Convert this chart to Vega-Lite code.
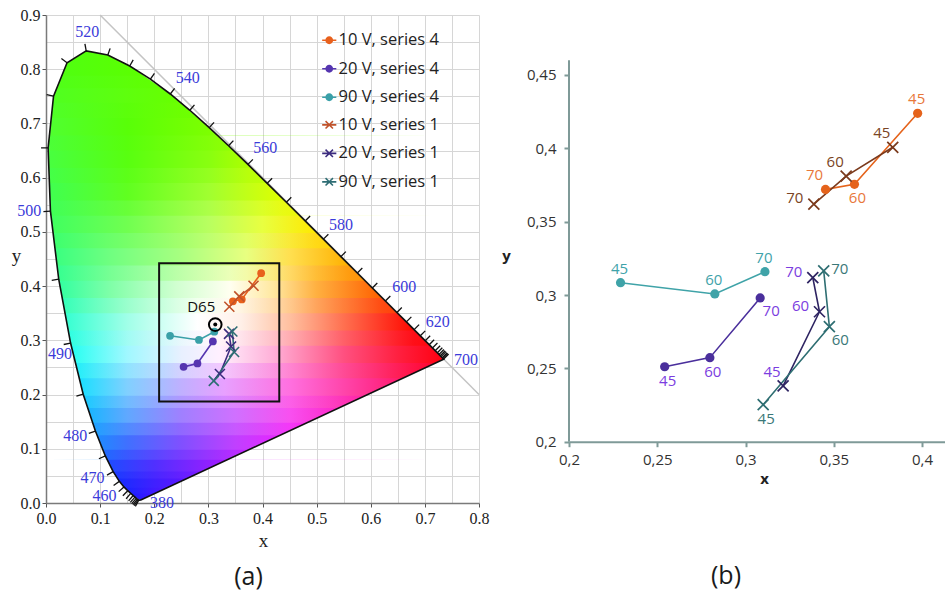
{
"$schema": "https://vega.github.io/schema/vega-lite/v6.json",
"padding": {"left": 11, "top": 7, "right": 0, "bottom": 5},
"spacing": 12,
"config": {"view": {"stroke": null}, "font": "Open Sans"},
"resolve": {"scale": {"x": "independent", "y": "independent", "color": "independent", "fill": "independent", "shape": "independent"}},
"datasets": {
"pts": [
{"s":"10 V, series 4","t":45,"x":0.3975,"y":0.4239},
{"s":"10 V, series 4","t":60,"x":0.3617,"y":0.3755},
{"s":"10 V, series 4","t":70,"x":0.3453,"y":0.372},
{"s":"20 V, series 4","t":45,"x":0.2542,"y":0.2511},
{"s":"20 V, series 4","t":60,"x":0.2798,"y":0.2573},
{"s":"20 V, series 4","t":70,"x":0.3083,"y":0.298},
{"s":"90 V, series 4","t":45,"x":0.2292,"y":0.3084},
{"s":"90 V, series 4","t":60,"x":0.2826,"y":0.3007},
{"s":"90 V, series 4","t":70,"x":0.311,"y":0.3159},
{"s":"10 V, series 1","t":45,"x":0.3834,"y":0.4007},
{"s":"10 V, series 1","t":60,"x":0.357,"y":0.3811},
{"s":"10 V, series 1","t":70,"x":0.3387,"y":0.362},
{"s":"20 V, series 1","t":45,"x":0.3213,"y":0.238},
{"s":"20 V, series 1","t":60,"x":0.3419,"y":0.2886},
{"s":"20 V, series 1","t":70,"x":0.3381,"y":0.3118},
{"s":"90 V, series 1","t":45,"x":0.31,"y":0.2252},
{"s":"90 V, series 1","t":60,"x":0.3475,"y":0.2784},
{"s":"90 V, series 1","t":70,"x":0.3443,"y":0.3164}
],
"strips": [
{"k":1,"y":0.00498,"x":0.0036,"x2":0.7347},{"k":1,"y":0.005,"x":0.1738,"x2":0.1741},{"k":1,"y":0.0109,"x":0.1644,"x2":0.1868},{"k":1,"y":0.0177,"x":0.1566,"x2":0.2015},{"k":1,"y":0.0227,"x":0.151,"x2":0.2122},{"k":1,"y":0.03,"x":0.1438,"x2":0.2279},
{"k":2,"y":0.02798,"x":0.0036,"x2":0.7347},{"k":2,"y":0.028,"x":0.1455,"x2":0.2236},{"k":2,"y":0.03,"x":0.1438,"x2":0.2279},{"k":2,"y":0.0399,"x":0.1355,"x2":0.2493},{"k":2,"y":0.0578,"x":0.1241,"x2":0.2878},{"k":2,"y":0.06,"x":0.123,"x2":0.2926},
{"k":3,"y":0.05798,"x":0.0036,"x2":0.7347},{"k":3,"y":0.058,"x":0.1243,"x2":0.2883},{"k":3,"y":0.06,"x":0.123,"x2":0.2926},{"k":3,"y":0.0868,"x":0.1096,"x2":0.3503},{"k":3,"y":0.1,"x":0.1043,"x2":0.3787},
{"k":4,"y":0.09798,"x":0.0036,"x2":0.7347},{"k":4,"y":0.098,"x":0.1051,"x2":0.3744},{"k":4,"y":0.1,"x":0.1043,"x2":0.3787},{"k":4,"y":0.1327,"x":0.0913,"x2":0.4491},{"k":4,"y":0.15,"x":0.0856,"x2":0.4864},
{"k":5,"y":0.14798,"x":0.0036,"x2":0.7347},{"k":5,"y":0.148,"x":0.0863,"x2":0.4821},{"k":5,"y":0.15,"x":0.0856,"x2":0.4864},{"k":5,"y":0.2,"x":0.0689,"x2":0.5941},
{"k":6,"y":0.19798,"x":0.0036,"x2":0.7347},{"k":6,"y":0.198,"x":0.0696,"x2":0.5898},{"k":6,"y":0.2,"x":0.0689,"x2":0.5941},{"k":6,"y":0.2007,"x":0.0687,"x2":0.5956},{"k":6,"y":0.26,"x":0.054,"x2":0.7233},
{"k":7,"y":0.25798,"x":0.0036,"x2":0.7347},{"k":7,"y":0.258,"x":0.0545,"x2":0.719},{"k":7,"y":0.26,"x":0.054,"x2":0.7233},{"k":7,"y":0.2653,"x":0.0527,"x2":0.7347},{"k":7,"y":0.274,"x":0.0505,"x2":0.726},{"k":7,"y":0.292,"x":0.0461,"x2":0.7079},{"k":7,"y":0.32,"x":0.0407,"x2":0.6798},
{"k":8,"y":0.31798,"x":0.0036,"x2":0.7347},{"k":8,"y":0.318,"x":0.0411,"x2":0.6798},{"k":8,"y":0.32,"x":0.0407,"x2":0.6798},{"k":8,"y":0.38,"x":0.0296,"x2":0.6195},
{"k":9,"y":0.37798,"x":0.0036,"x2":0.7347},{"k":9,"y":0.378,"x":0.03,"x2":0.6195},{"k":9,"y":0.38,"x":0.0296,"x2":0.6195},{"k":9,"y":0.44,"x":0.0202,"x2":0.5593},
{"k":10,"y":0.43798,"x":0.0036,"x2":0.7347},{"k":10,"y":0.438,"x":0.0204,"x2":0.5593},{"k":10,"y":0.44,"x":0.0202,"x2":0.5593},{"k":10,"y":0.5,"x":0.0129,"x2":0.499},
{"k":11,"y":0.49798,"x":0.0036,"x2":0.7347},{"k":11,"y":0.498,"x":0.0131,"x2":0.499},{"k":11,"y":0.5,"x":0.0129,"x2":0.499},{"k":11,"y":0.5384,"x":0.0082,"x2":0.4605},{"k":11,"y":0.56,"x":0.0074,"x2":0.4387},
{"k":12,"y":0.55798,"x":0.0036,"x2":0.7347},{"k":12,"y":0.558,"x":0.0075,"x2":0.4387},{"k":12,"y":0.56,"x":0.0074,"x2":0.4387},{"k":12,"y":0.62,"x":0.0052,"x2":0.3777},
{"k":13,"y":0.61798,"x":0.0036,"x2":0.7347},{"k":13,"y":0.618,"x":0.0053,"x2":0.3777},{"k":13,"y":0.62,"x":0.0052,"x2":0.3777},{"k":13,"y":0.6548,"x":0.0039,"x2":0.3411},{"k":13,"y":0.68,"x":0.0065,"x2":0.3146},
{"k":14,"y":0.67798,"x":0.0036,"x2":0.7347},{"k":14,"y":0.678,"x":0.0065,"x2":0.3146},{"k":14,"y":0.68,"x":0.0065,"x2":0.3146},{"k":14,"y":0.74,"x":0.0128,"x2":0.2462},
{"k":15,"y":0.73798,"x":0.0036,"x2":0.7347},{"k":15,"y":0.738,"x":0.0128,"x2":0.2462},{"k":15,"y":0.74,"x":0.0128,"x2":0.2462},{"k":15,"y":0.7502,"x":0.0139,"x2":0.2344},{"k":15,"y":0.79,"x":0.03,"x2":0.1778},
{"k":16,"y":0.78798,"x":0.0036,"x2":0.7347},{"k":16,"y":0.788,"x":0.03,"x2":0.1778},{"k":16,"y":0.79,"x":0.03,"x2":0.1778},{"k":16,"y":0.8059,"x":0.0364,"x2":0.1547},{"k":16,"y":0.812,"x":0.0389,"x2":0.1425},{"k":16,"y":0.8262,"x":0.0619,"x2":0.1142},{"k":16,"y":0.8338,"x":0.0743,"x2":0.0743},
{"k":101,"y":0.01748,"x":0.0036,"x2":0.7347},{"k":101,"y":0.0175,"x":0.1568,"x2":0.201},{"k":101,"y":0.0227,"x":0.151,"x2":0.2122},{"k":101,"y":0.03,"x":0.1438,"x2":0.2279},{"k":101,"y":0.0399,"x":0.1355,"x2":0.2493},{"k":101,"y":0.045,"x":0.1323,"x2":0.2602},
{"k":102,"y":0.04498,"x":0.0036,"x2":0.7347},{"k":102,"y":0.045,"x":0.1323,"x2":0.2602},{"k":102,"y":0.0578,"x":0.1241,"x2":0.2878},{"k":102,"y":0.06,"x":0.123,"x2":0.2926},{"k":102,"y":0.08,"x":0.113,"x2":0.3356},
{"k":103,"y":0.07998,"x":0.0036,"x2":0.7347},{"k":103,"y":0.08,"x":0.113,"x2":0.3356},{"k":103,"y":0.0868,"x":0.1096,"x2":0.3503},{"k":103,"y":0.1,"x":0.1043,"x2":0.3787},{"k":103,"y":0.125,"x":0.0944,"x2":0.4325},
{"k":104,"y":0.12498,"x":0.0036,"x2":0.7347},{"k":104,"y":0.125,"x":0.0944,"x2":0.4325},{"k":104,"y":0.1327,"x":0.0913,"x2":0.4491},{"k":104,"y":0.15,"x":0.0856,"x2":0.4864},{"k":104,"y":0.175,"x":0.0772,"x2":0.5402},
{"k":105,"y":0.17498,"x":0.0036,"x2":0.7347},{"k":105,"y":0.175,"x":0.0772,"x2":0.5402},{"k":105,"y":0.2,"x":0.0689,"x2":0.5941},{"k":105,"y":0.2007,"x":0.0687,"x2":0.5956},{"k":105,"y":0.23,"x":0.0615,"x2":0.6587},
{"k":106,"y":0.22998,"x":0.0036,"x2":0.7347},{"k":106,"y":0.23,"x":0.0615,"x2":0.6587},{"k":106,"y":0.26,"x":0.054,"x2":0.7233},{"k":106,"y":0.2653,"x":0.0527,"x2":0.7347},{"k":106,"y":0.274,"x":0.0505,"x2":0.726},{"k":106,"y":0.29,"x":0.0466,"x2":0.7099},
{"k":107,"y":0.28998,"x":0.0036,"x2":0.7347},{"k":107,"y":0.29,"x":0.0466,"x2":0.7099},{"k":107,"y":0.292,"x":0.0461,"x2":0.7079},{"k":107,"y":0.32,"x":0.0407,"x2":0.6798},{"k":107,"y":0.35,"x":0.0352,"x2":0.6497},
{"k":108,"y":0.34998,"x":0.0036,"x2":0.7347},{"k":108,"y":0.35,"x":0.0352,"x2":0.6497},{"k":108,"y":0.38,"x":0.0296,"x2":0.6195},{"k":108,"y":0.41,"x":0.024,"x2":0.5894},
{"k":109,"y":0.40998,"x":0.0036,"x2":0.7347},{"k":109,"y":0.41,"x":0.024,"x2":0.5894},{"k":109,"y":0.44,"x":0.0202,"x2":0.5593},{"k":109,"y":0.47,"x":0.0165,"x2":0.5292},
{"k":110,"y":0.46998,"x":0.0036,"x2":0.7347},{"k":110,"y":0.47,"x":0.0165,"x2":0.5292},{"k":110,"y":0.5,"x":0.0129,"x2":0.499},{"k":110,"y":0.53,"x":0.0092,"x2":0.4689},
{"k":111,"y":0.52998,"x":0.0036,"x2":0.7347},{"k":111,"y":0.53,"x":0.0092,"x2":0.4689},{"k":111,"y":0.5384,"x":0.0082,"x2":0.4605},{"k":111,"y":0.56,"x":0.0074,"x2":0.4387},{"k":111,"y":0.59,"x":0.0063,"x2":0.4082},
{"k":112,"y":0.58998,"x":0.0036,"x2":0.7347},{"k":112,"y":0.59,"x":0.0063,"x2":0.4082},{"k":112,"y":0.62,"x":0.0052,"x2":0.3777},{"k":112,"y":0.65,"x":0.0041,"x2":0.3462},
{"k":113,"y":0.64998,"x":0.0036,"x2":0.7347},{"k":113,"y":0.65,"x":0.0041,"x2":0.3462},{"k":113,"y":0.6548,"x":0.0039,"x2":0.3411},{"k":113,"y":0.68,"x":0.0065,"x2":0.3146},{"k":113,"y":0.71,"x":0.0097,"x2":0.281},
{"k":114,"y":0.70998,"x":0.0036,"x2":0.7347},{"k":114,"y":0.71,"x":0.0097,"x2":0.281},{"k":114,"y":0.74,"x":0.0128,"x2":0.2462},{"k":114,"y":0.7502,"x":0.0139,"x2":0.2344},{"k":114,"y":0.765,"x":0.0199,"x2":0.2141},
{"k":115,"y":0.76498,"x":0.0036,"x2":0.7347},{"k":115,"y":0.765,"x":0.0199,"x2":0.2141},{"k":115,"y":0.79,"x":0.03,"x2":0.1778},{"k":115,"y":0.8059,"x":0.0364,"x2":0.1547},{"k":115,"y":0.812,"x":0.0389,"x2":0.1425}
],
"locus": [
{"i":1,"x":0.1741,"y":0.005},{"i":2,"x":0.1714,"y":0.0051},{"i":3,"x":0.1689,"y":0.0069},{"i":4,"x":0.1644,"y":0.0109},{"i":5,"x":0.1566,"y":0.0177},{"i":6,"x":0.151,"y":0.0227},{"i":7,"x":0.144,"y":0.0297},{"i":8,"x":0.1355,"y":0.0399},{"i":9,"x":0.1241,"y":0.0578},{"i":10,"x":0.1096,"y":0.0868},{"i":11,"x":0.0913,"y":0.1327},{"i":12,"x":0.0687,"y":0.2007},{"i":13,"x":0.0454,"y":0.295},{"i":14,"x":0.0235,"y":0.4127},{"i":15,"x":0.0082,"y":0.5384},{"i":16,"x":0.0039,"y":0.6548},{"i":17,"x":0.0139,"y":0.7502},{"i":18,"x":0.0389,"y":0.812},{"i":19,"x":0.0743,"y":0.8338},{"i":20,"x":0.1142,"y":0.8262},{"i":21,"x":0.1547,"y":0.8059},{"i":22,"x":0.1929,"y":0.7816},{"i":23,"x":0.2296,"y":0.7543},{"i":24,"x":0.2658,"y":0.7243},{"i":25,"x":0.3016,"y":0.6923},{"i":26,"x":0.3373,"y":0.6589},{"i":27,"x":0.3731,"y":0.6245},{"i":28,"x":0.4087,"y":0.5896},{"i":29,"x":0.4441,"y":0.5547},{"i":30,"x":0.4788,"y":0.5202},{"i":31,"x":0.5125,"y":0.4866},{"i":32,"x":0.5448,"y":0.4544},{"i":33,"x":0.5752,"y":0.4242},{"i":34,"x":0.6029,"y":0.3965},{"i":35,"x":0.627,"y":0.3725},{"i":36,"x":0.6482,"y":0.3514},{"i":37,"x":0.6658,"y":0.334},{"i":38,"x":0.6915,"y":0.3083},{"i":39,"x":0.7079,"y":0.292},{"i":40,"x":0.719,"y":0.2809},{"i":41,"x":0.726,"y":0.274},{"i":42,"x":0.73,"y":0.27},{"i":43,"x":0.7334,"y":0.2666},{"i":44,"x":0.7347,"y":0.2653},{"i":45,"x":0.1741,"y":0.005}
],
"ticks": [
{"x":0.1714,"y":0.0051,"x2":0.1651,"y2":-0.0063},{"x":0.1703,"y":0.0058,"x2":0.1627,"y2":-0.0048},{"x":0.1689,"y":0.0069,"x2":0.1606,"y2":-0.0031},{"x":0.1669,"y":0.0086,"x2":0.1583,"y2":-0.0011},{"x":0.1644,"y":0.0109,"x2":0.1557,"y2":0.0012},{"x":0.1611,"y":0.0138,"x2":0.1526,"y2":0.004},{"x":0.1566,"y":0.0177,"x2":0.148,"y2":0.0079},{"x":0.151,"y":0.0227,"x2":0.142,"y2":0.0133},{"x":0.144,"y":0.0297,"x2":0.1343,"y2":0.021},{"x":0.1355,"y":0.0399,"x2":0.1249,"y2":0.0324},{"x":0.1241,"y":0.0578,"x2":0.1127,"y2":0.0515},{"x":0.1096,"y":0.0868,"x2":0.0977,"y2":0.0816},{"x":0.0913,"y":0.1327,"x2":0.0791,"y2":0.1283},{"x":0.0687,"y":0.2007,"x2":0.0562,"y2":0.1972},{"x":0.0454,"y":0.295,"x2":0.0327,"y2":0.2923},{"x":0.0235,"y":0.4127,"x2":0.0106,"y2":0.4107},{"x":0.0082,"y":0.5384,"x2":-0.0048,"y2":0.5373},{"x":0.0039,"y":0.6548,"x2":-0.0091,"y2":0.6551},{"x":0.0139,"y":0.7502,"x2":0.0012,"y2":0.753},{"x":0.0389,"y":0.812,"x2":0.0284,"y2":0.8196},{"x":0.0743,"y":0.8338,"x2":0.0719,"y2":0.8466},{"x":0.1142,"y":0.8262,"x2":0.1185,"y2":0.8385},{"x":0.1547,"y":0.8059,"x2":0.1611,"y2":0.8172},{"x":0.1929,"y":0.7816,"x2":0.2003,"y2":0.7923},{"x":0.2296,"y":0.7543,"x2":0.2376,"y2":0.7645},{"x":0.2658,"y":0.7243,"x2":0.2743,"y2":0.7342},{"x":0.3016,"y":0.6923,"x2":0.3104,"y2":0.7019},{"x":0.3373,"y":0.6589,"x2":0.3462,"y2":0.6683},{"x":0.3731,"y":0.6245,"x2":0.3822,"y2":0.6338},{"x":0.4087,"y":0.5896,"x2":0.4178,"y2":0.5989},{"x":0.4441,"y":0.5547,"x2":0.4532,"y2":0.5639},{"x":0.4788,"y":0.5202,"x2":0.488,"y2":0.5294},{"x":0.5125,"y":0.4866,"x2":0.5217,"y2":0.4958},{"x":0.5448,"y":0.4544,"x2":0.554,"y2":0.4636},{"x":0.5752,"y":0.4242,"x2":0.5844,"y2":0.4334},{"x":0.6029,"y":0.3965,"x2":0.6121,"y2":0.4057},{"x":0.627,"y":0.3725,"x2":0.6362,"y2":0.3817},{"x":0.6482,"y":0.3514,"x2":0.6574,"y2":0.3606},{"x":0.6658,"y":0.334,"x2":0.675,"y2":0.3432},{"x":0.6801,"y":0.3197,"x2":0.6893,"y2":0.3289},{"x":0.6915,"y":0.3083,"x2":0.7007,"y2":0.3175},{"x":0.7006,"y":0.2993,"x2":0.7098,"y2":0.3085},{"x":0.7079,"y":0.292,"x2":0.7171,"y2":0.3012},{"x":0.714,"y":0.2859,"x2":0.7232,"y2":0.2951},{"x":0.719,"y":0.2809,"x2":0.7282,"y2":0.2901},{"x":0.723,"y":0.277,"x2":0.7322,"y2":0.2862},{"x":0.726,"y":0.274,"x2":0.7352,"y2":0.2832},{"x":0.7283,"y":0.2717,"x2":0.7375,"y2":0.2809},{"x":0.73,"y":0.27,"x2":0.7392,"y2":0.2792},{"x":0.732,"y":0.268,"x2":0.7412,"y2":0.2772},{"x":0.7334,"y":0.2666,"x2":0.7426,"y2":0.2758},{"x":0.7347,"y":0.2653,"x2":0.7439,"y2":0.2745}
],
"wl": [
{"w":"520","x":0.076,"y":0.869},{"w":"540","x":0.262,"y":0.784},{"w":"560","x":0.405,"y":0.655},{"w":"580","x":0.545,"y":0.513},{"w":"600","x":0.662,"y":0.398},{"w":"620","x":0.724,"y":0.3345},{"w":"700","x":0.776,"y":0.264},{"w":"500","x":-0.031,"y":0.539},{"w":"490","x":0.026,"y":0.274},{"w":"480","x":0.054,"y":0.124},{"w":"470","x":0.086,"y":0.046},{"w":"460","x":0.108,"y":0.012},{"w":"380","x":0.2145,"y":0.0}
],
"diag": [{"x":0.1,"y":0.9},{"x":0.8,"y":0.2}],
"box": [{"x":0.209,"x2":0.431,"y":0.187,"y2":0.442}],
"d65": [{"x":0.3127,"y":0.329,"name":"D65"}],
"baxis": [{"x":0.2,"y":0.2,"y2":0.46}]
},
"hconcat": [
{
"width": 433, "height": 488,
"title": {"text":"(a)","orient":"bottom","anchor":"middle","font":"Open Sans","fontSize":25,"fontWeight":"normal","color":"#1a1a1a","offset":15,"dx":-14},
"resolve": {"scale": {"color": "independent"}},
"encoding": {
"x": {"field":"x","type":"quantitative","scale":{"domain":[0,0.8],"nice":false,"zero":false},
"axis":{"values":[0,0.05,0.1,0.15,0.2,0.25,0.3,0.35,0.4,0.45,0.5,0.55,0.6,0.65,0.7,0.75,0.8],"labelExpr":"round(datum.value*100) % 10 == 0 ? format(datum.value, '.1f') : ''","grid":true,"gridColor":"#d6d6d6","gridWidth":1,"domainColor":"#7a7a7a","domainWidth":1.5,"tickColor":"#555555","tickSize":4,"tickOpacity":{"condition":{"test":"round(datum.value*100) % 10 == 0","value":1},"value":0},"labelFont":"Liberation Serif","labelFontSize":16,"labelColor":"#222222","labelPadding":3,"labelFlush":false,"labelOverlap":false,"title":"x","titleFont":"Liberation Serif","titleFontSize":19,"titleFontWeight":"normal","titleColor":"#222222","titleX":217,"titleY":37,"titleBaseline":"middle","titleAlign":"center"}},
"y": {"field":"y","type":"quantitative","scale":{"domain":[0,0.9],"nice":false,"zero":false},
"axis":{"values":[0,0.05,0.1,0.15,0.2,0.25,0.3,0.35,0.4,0.45,0.5,0.55,0.6,0.65,0.7,0.75,0.8,0.85,0.9],"labelExpr":"round(datum.value*100) % 10 == 0 ? format(datum.value, '.1f') : ''","grid":true,"gridColor":"#d6d6d6","gridWidth":1,"domainColor":"#7a7a7a","domainWidth":1.5,"tickColor":"#555555","tickSize":4,"tickOpacity":{"condition":{"test":"round(datum.value*100) % 10 == 0","value":1},"value":0},"labelFont":"Liberation Serif","labelFontSize":16,"labelColor":"#222222","labelPadding":2,"labelFlush":false,"labelOverlap":false,"title":"y","titleFont":"Liberation Serif","titleFontSize":19,"titleFontWeight":"normal","titleColor":"#222222","titleAngle":0,"titleX":-30,"titleY":240,"titleBaseline":"middle","titleAlign":"center"}}
},
"layer": [
{"data":{"name":"diag"},"mark":{"type":"line","color":"#c4c4c4","strokeWidth":1.5},"encoding":{}},
{"data":{"name":"strips"},"transform":[{"filter":"datum.k == 1"}],"mark":{"type":"area","orient":"horizontal","fill":{"gradient":"linear","x1":0,"y1":0,"x2":1,"y2":0,"stops":[{"offset":0.1918,"color":"#1020ff"},{"offset":0.3068,"color":"#5a10ff"}]}},"encoding":{"x2":{"field":"x2"}}},
{"data":{"name":"strips"},"transform":[{"filter":"datum.k == 2"}],"mark":{"type":"area","orient":"horizontal","fill":{"gradient":"linear","x1":0,"y1":0,"x2":1,"y2":0,"stops":[{"offset":0.1633,"color":"#1030ff"},{"offset":0.2686,"color":"#4020ff"},{"offset":0.3953,"color":"#7010ff"}]}},"encoding":{"x2":{"field":"x2"}}},
{"data":{"name":"strips"},"transform":[{"filter":"datum.k == 3"}],"mark":{"type":"area","orient":"horizontal","fill":{"gradient":"linear","x1":0,"y1":0,"x2":1,"y2":0,"stops":[{"offset":0.1377,"color":"#1850ff"},{"offset":0.2686,"color":"#5030ff"},{"offset":0.4054,"color":"#9020ff"},{"offset":0.5131,"color":"#c010ff"}]}},"encoding":{"x2":{"field":"x2"}}},
{"data":{"name":"strips"},"transform":[{"filter":"datum.k == 4"}],"mark":{"type":"area","orient":"horizontal","fill":{"gradient":"linear","x1":0,"y1":0,"x2":1,"y2":0,"stops":[{"offset":0.1122,"color":"#1890ff"},{"offset":0.2003,"color":"#4070ff"},{"offset":0.337,"color":"#8050ff"},{"offset":0.4738,"color":"#c040ff"},{"offset":0.6106,"color":"#f020ff"},{"offset":0.6604,"color":"#ff10f0"}]}},"encoding":{"x2":{"field":"x2"}}},
{"data":{"name":"strips"},"transform":[{"filter":"datum.k == 5"}],"mark":{"type":"area","orient":"horizontal","fill":{"gradient":"linear","x1":0,"y1":0,"x2":1,"y2":0,"stops":[{"offset":0.0893,"color":"#10b8ff"},{"offset":0.2003,"color":"#60a8ff"},{"offset":0.337,"color":"#a080ff"},{"offset":0.4738,"color":"#d070ff"},{"offset":0.6106,"color":"#f850f0"},{"offset":0.8077,"color":"#ff10b0"}]}},"encoding":{"x2":{"field":"x2"}}},
{"data":{"name":"strips"},"transform":[{"filter":"datum.k == 6"}],"mark":{"type":"area","orient":"horizontal","fill":{"gradient":"linear","x1":0,"y1":0,"x2":1,"y2":0,"stops":[{"offset":0.0689,"color":"#10e0ff"},{"offset":0.2003,"color":"#80d0ff"},{"offset":0.337,"color":"#c0b0ff"},{"offset":0.4464,"color":"#e8a0ff"},{"offset":0.6106,"color":"#ff70e0"},{"offset":0.8157,"color":"#ff3090"},{"offset":0.9844,"color":"#ff0040"}]}},"encoding":{"x2":{"field":"x2"}}},
{"data":{"name":"strips"},"transform":[{"filter":"datum.k == 7"}],"mark":{"type":"area","orient":"horizontal","fill":{"gradient":"linear","x1":0,"y1":0,"x2":1,"y2":0,"stops":[{"offset":0.0507,"color":"#20fff0"},{"offset":0.2003,"color":"#a0f8ff"},{"offset":0.337,"color":"#e8f0ff"},{"offset":0.4328,"color":"#fff0ff"},{"offset":0.5696,"color":"#ffb0d8"},{"offset":0.7474,"color":"#ff5080"},{"offset":0.8841,"color":"#ff2040"},{"offset":1,"color":"#ff0010"}]}},"encoding":{"x2":{"field":"x2"}}},
{"data":{"name":"strips"},"transform":[{"filter":"datum.k == 8"}],"mark":{"type":"area","orient":"horizontal","fill":{"gradient":"linear","x1":0,"y1":0,"x2":1,"y2":0,"stops":[{"offset":0.0356,"color":"#30ffd0"},{"offset":0.2003,"color":"#a0ffe8"},{"offset":0.3781,"color":"#ffffff"},{"offset":0.4875,"color":"#fff0e8"},{"offset":0.6106,"color":"#ffc0a0"},{"offset":0.7474,"color":"#ff7050"},{"offset":0.9249,"color":"#ff0800"}]}},"encoding":{"x2":{"field":"x2"}}},
{"data":{"name":"strips"},"transform":[{"filter":"datum.k == 9"}],"mark":{"type":"area","orient":"horizontal","fill":{"gradient":"linear","x1":0,"y1":0,"x2":1,"y2":0,"stops":[{"offset":0.0227,"color":"#30ffa0"},{"offset":0.1592,"color":"#80ffa8"},{"offset":0.3233,"color":"#d0ffd0"},{"offset":0.4601,"color":"#fffff0"},{"offset":0.5696,"color":"#ffe8a0"},{"offset":0.679,"color":"#ffb040"},{"offset":0.8424,"color":"#ff6000"}]}},"encoding":{"x2":{"field":"x2"}}},
{"data":{"name":"strips"},"transform":[{"filter":"datum.k == 10"}],"mark":{"type":"area","orient":"horizontal","fill":{"gradient":"linear","x1":0,"y1":0,"x2":1,"y2":0,"stops":[{"offset":0.0127,"color":"#38ff80"},{"offset":0.1592,"color":"#70ff80"},{"offset":0.337,"color":"#a8ff80"},{"offset":0.5012,"color":"#e8ff80"},{"offset":0.6106,"color":"#ffe050"},{"offset":0.7601,"color":"#ffb000"}]}},"encoding":{"x2":{"field":"x2"}}},
{"data":{"name":"strips"},"transform":[{"filter":"datum.k == 11"}],"mark":{"type":"area","orient":"horizontal","fill":{"gradient":"linear","x1":0,"y1":0,"x2":1,"y2":0,"stops":[{"offset":0.0052,"color":"#40ff60"},{"offset":0.2003,"color":"#70ff50"},{"offset":0.4054,"color":"#b8ff60"},{"offset":0.5422,"color":"#e8ff40"},{"offset":0.6776,"color":"#ffe800"}]}},"encoding":{"x2":{"field":"x2"}}},
{"data":{"name":"strips"},"transform":[{"filter":"datum.k == 12"}],"mark":{"type":"area","orient":"horizontal","fill":{"gradient":"linear","x1":0,"y1":0,"x2":1,"y2":0,"stops":[{"offset":0.0022,"color":"#40ff50"},{"offset":0.2003,"color":"#60ff20"},{"offset":0.4054,"color":"#a0ff30"},{"offset":0.5951,"color":"#e0ff00"}]}},"encoding":{"x2":{"field":"x2"}}},
{"data":{"name":"strips"},"transform":[{"filter":"datum.k == 13"}],"mark":{"type":"area","orient":"horizontal","fill":{"gradient":"linear","x1":0,"y1":0,"x2":1,"y2":0,"stops":[{"offset":0.0004,"color":"#48ff40"},{"offset":0.2003,"color":"#58ff10"},{"offset":0.4054,"color":"#88ff10"},{"offset":0.5117,"color":"#b0ff00"}]}},"encoding":{"x2":{"field":"x2"}}},
{"data":{"name":"strips"},"transform":[{"filter":"datum.k == 14"}],"mark":{"type":"area","orient":"horizontal","fill":{"gradient":"linear","x1":0,"y1":0,"x2":1,"y2":0,"stops":[{"offset":0.004,"color":"#50ff30"},{"offset":0.2003,"color":"#58ff08"},{"offset":0.4254,"color":"#80ff00"}]}},"encoding":{"x2":{"field":"x2"}}},
{"data":{"name":"strips"},"transform":[{"filter":"datum.k == 15"}],"mark":{"type":"area","orient":"horizontal","fill":{"gradient":"linear","x1":0,"y1":0,"x2":1,"y2":0,"stops":[{"offset":0.0126,"color":"#50ff20"},{"offset":0.3318,"color":"#68ff00"}]}},"encoding":{"x2":{"field":"x2"}}},
{"data":{"name":"strips"},"transform":[{"filter":"datum.k == 16"}],"mark":{"type":"area","orient":"horizontal","fill":{"gradient":"linear","x1":0,"y1":0,"x2":1,"y2":0,"stops":[{"offset":0.0361,"color":"#50ff10"},{"offset":0.2383,"color":"#5cff00"}]}},"encoding":{"x2":{"field":"x2"}}},
{"data":{"name":"strips"},"transform":[{"filter":"datum.k == 101"}],"mark":{"type":"area","orient":"horizontal","fillOpacity":0.5,"fill":{"gradient":"linear","x1":0,"y1":0,"x2":1,"y2":0,"stops":[{"offset":0.1633,"color":"#1030ff"},{"offset":0.2686,"color":"#4020ff"},{"offset":0.3953,"color":"#7010ff"}]}},"encoding":{"x2":{"field":"x2"}}},
{"data":{"name":"strips"},"transform":[{"filter":"datum.k == 102"}],"mark":{"type":"area","orient":"horizontal","fillOpacity":0.5,"fill":{"gradient":"linear","x1":0,"y1":0,"x2":1,"y2":0,"stops":[{"offset":0.1377,"color":"#1850ff"},{"offset":0.2686,"color":"#5030ff"},{"offset":0.4054,"color":"#9020ff"},{"offset":0.5131,"color":"#c010ff"}]}},"encoding":{"x2":{"field":"x2"}}},
{"data":{"name":"strips"},"transform":[{"filter":"datum.k == 103"}],"mark":{"type":"area","orient":"horizontal","fillOpacity":0.5,"fill":{"gradient":"linear","x1":0,"y1":0,"x2":1,"y2":0,"stops":[{"offset":0.1122,"color":"#1890ff"},{"offset":0.2003,"color":"#4070ff"},{"offset":0.337,"color":"#8050ff"},{"offset":0.4738,"color":"#c040ff"},{"offset":0.6106,"color":"#f020ff"},{"offset":0.6604,"color":"#ff10f0"}]}},"encoding":{"x2":{"field":"x2"}}},
{"data":{"name":"strips"},"transform":[{"filter":"datum.k == 104"}],"mark":{"type":"area","orient":"horizontal","fillOpacity":0.5,"fill":{"gradient":"linear","x1":0,"y1":0,"x2":1,"y2":0,"stops":[{"offset":0.0893,"color":"#10b8ff"},{"offset":0.2003,"color":"#60a8ff"},{"offset":0.337,"color":"#a080ff"},{"offset":0.4738,"color":"#d070ff"},{"offset":0.6106,"color":"#f850f0"},{"offset":0.8077,"color":"#ff10b0"}]}},"encoding":{"x2":{"field":"x2"}}},
{"data":{"name":"strips"},"transform":[{"filter":"datum.k == 105"}],"mark":{"type":"area","orient":"horizontal","fillOpacity":0.5,"fill":{"gradient":"linear","x1":0,"y1":0,"x2":1,"y2":0,"stops":[{"offset":0.0689,"color":"#10e0ff"},{"offset":0.2003,"color":"#80d0ff"},{"offset":0.337,"color":"#c0b0ff"},{"offset":0.4464,"color":"#e8a0ff"},{"offset":0.6106,"color":"#ff70e0"},{"offset":0.8157,"color":"#ff3090"},{"offset":0.9844,"color":"#ff0040"}]}},"encoding":{"x2":{"field":"x2"}}},
{"data":{"name":"strips"},"transform":[{"filter":"datum.k == 106"}],"mark":{"type":"area","orient":"horizontal","fillOpacity":0.5,"fill":{"gradient":"linear","x1":0,"y1":0,"x2":1,"y2":0,"stops":[{"offset":0.0507,"color":"#20fff0"},{"offset":0.2003,"color":"#a0f8ff"},{"offset":0.337,"color":"#e8f0ff"},{"offset":0.4328,"color":"#fff0ff"},{"offset":0.5696,"color":"#ffb0d8"},{"offset":0.7474,"color":"#ff5080"},{"offset":0.8841,"color":"#ff2040"},{"offset":1,"color":"#ff0010"}]}},"encoding":{"x2":{"field":"x2"}}},
{"data":{"name":"strips"},"transform":[{"filter":"datum.k == 107"}],"mark":{"type":"area","orient":"horizontal","fillOpacity":0.5,"fill":{"gradient":"linear","x1":0,"y1":0,"x2":1,"y2":0,"stops":[{"offset":0.0356,"color":"#30ffd0"},{"offset":0.2003,"color":"#a0ffe8"},{"offset":0.3781,"color":"#ffffff"},{"offset":0.4875,"color":"#fff0e8"},{"offset":0.6106,"color":"#ffc0a0"},{"offset":0.7474,"color":"#ff7050"},{"offset":0.9249,"color":"#ff0800"}]}},"encoding":{"x2":{"field":"x2"}}},
{"data":{"name":"strips"},"transform":[{"filter":"datum.k == 108"}],"mark":{"type":"area","orient":"horizontal","fillOpacity":0.5,"fill":{"gradient":"linear","x1":0,"y1":0,"x2":1,"y2":0,"stops":[{"offset":0.0227,"color":"#30ffa0"},{"offset":0.1592,"color":"#80ffa8"},{"offset":0.3233,"color":"#d0ffd0"},{"offset":0.4601,"color":"#fffff0"},{"offset":0.5696,"color":"#ffe8a0"},{"offset":0.679,"color":"#ffb040"},{"offset":0.8424,"color":"#ff6000"}]}},"encoding":{"x2":{"field":"x2"}}},
{"data":{"name":"strips"},"transform":[{"filter":"datum.k == 109"}],"mark":{"type":"area","orient":"horizontal","fillOpacity":0.5,"fill":{"gradient":"linear","x1":0,"y1":0,"x2":1,"y2":0,"stops":[{"offset":0.0127,"color":"#38ff80"},{"offset":0.1592,"color":"#70ff80"},{"offset":0.337,"color":"#a8ff80"},{"offset":0.5012,"color":"#e8ff80"},{"offset":0.6106,"color":"#ffe050"},{"offset":0.7601,"color":"#ffb000"}]}},"encoding":{"x2":{"field":"x2"}}},
{"data":{"name":"strips"},"transform":[{"filter":"datum.k == 110"}],"mark":{"type":"area","orient":"horizontal","fillOpacity":0.5,"fill":{"gradient":"linear","x1":0,"y1":0,"x2":1,"y2":0,"stops":[{"offset":0.0052,"color":"#40ff60"},{"offset":0.2003,"color":"#70ff50"},{"offset":0.4054,"color":"#b8ff60"},{"offset":0.5422,"color":"#e8ff40"},{"offset":0.6776,"color":"#ffe800"}]}},"encoding":{"x2":{"field":"x2"}}},
{"data":{"name":"strips"},"transform":[{"filter":"datum.k == 111"}],"mark":{"type":"area","orient":"horizontal","fillOpacity":0.5,"fill":{"gradient":"linear","x1":0,"y1":0,"x2":1,"y2":0,"stops":[{"offset":0.0022,"color":"#40ff50"},{"offset":0.2003,"color":"#60ff20"},{"offset":0.4054,"color":"#a0ff30"},{"offset":0.5951,"color":"#e0ff00"}]}},"encoding":{"x2":{"field":"x2"}}},
{"data":{"name":"strips"},"transform":[{"filter":"datum.k == 112"}],"mark":{"type":"area","orient":"horizontal","fillOpacity":0.5,"fill":{"gradient":"linear","x1":0,"y1":0,"x2":1,"y2":0,"stops":[{"offset":0.0004,"color":"#48ff40"},{"offset":0.2003,"color":"#58ff10"},{"offset":0.4054,"color":"#88ff10"},{"offset":0.5117,"color":"#b0ff00"}]}},"encoding":{"x2":{"field":"x2"}}},
{"data":{"name":"strips"},"transform":[{"filter":"datum.k == 113"}],"mark":{"type":"area","orient":"horizontal","fillOpacity":0.5,"fill":{"gradient":"linear","x1":0,"y1":0,"x2":1,"y2":0,"stops":[{"offset":0.004,"color":"#50ff30"},{"offset":0.2003,"color":"#58ff08"},{"offset":0.4254,"color":"#80ff00"}]}},"encoding":{"x2":{"field":"x2"}}},
{"data":{"name":"strips"},"transform":[{"filter":"datum.k == 114"}],"mark":{"type":"area","orient":"horizontal","fillOpacity":0.5,"fill":{"gradient":"linear","x1":0,"y1":0,"x2":1,"y2":0,"stops":[{"offset":0.0126,"color":"#50ff20"},{"offset":0.3318,"color":"#68ff00"}]}},"encoding":{"x2":{"field":"x2"}}},
{"data":{"name":"strips"},"transform":[{"filter":"datum.k == 115"}],"mark":{"type":"area","orient":"horizontal","fillOpacity":0.5,"fill":{"gradient":"linear","x1":0,"y1":0,"x2":1,"y2":0,"stops":[{"offset":0.0361,"color":"#50ff10"},{"offset":0.2383,"color":"#5cff00"}]}},"encoding":{"x2":{"field":"x2"}}},
{"data":{"name":"locus"},"mark":{"type":"line","color":"#111111","strokeWidth":1.6},"encoding":{"order":{"field":"i","type":"quantitative"}}},
{"data":{"name":"ticks"},"mark":{"type":"rule","color":"#111111","strokeWidth":1.3},"encoding":{"x2":{"field":"x2"},"y2":{"field":"y2"}}},
{"data":{"name":"wl"},"mark":{"type":"text","font":"Liberation Serif","fontSize":16,"fill":"#3b3bd9","align":"center","baseline":"middle"},"encoding":{"text":{"field":"w","type":"nominal"}}},
{"data":{"name":"box"},"mark":{"type":"rect","filled":false,"color":"#111111","strokeWidth":2},"encoding":{"x2":{"field":"x2"},"y2":{"field":"y2"}}},
{"data":{"name":"pts"},"mark":{"type":"line","strokeWidth":1.6},"encoding":{"order":{"field":"t","type":"quantitative"},"color":{"field":"s","type":"nominal","legend":null,"scale":{"domain":["10 V, series 4","20 V, series 4","90 V, series 4","10 V, series 1","20 V, series 1","90 V, series 1"],"range":["#e8601c","#5535b0","#3aa0a8","#c0522a","#3b2b7e","#2e6d74"]}}}},
{"data":{"name":"pts"},"transform":[{"filter":{"field":"s","oneOf":["10 V, series 4","20 V, series 4","90 V, series 4"]}}],"mark":{"type":"point","shape":"circle","filled":true,"opacity":1,"size":60},"encoding":{"color":{"field":"s","type":"nominal","legend":null,"scale":{"domain":["10 V, series 4","20 V, series 4","90 V, series 4","10 V, series 1","20 V, series 1","90 V, series 1"],"range":["#e8601c","#5535b0","#3aa0a8","#c0522a","#3b2b7e","#2e6d74"]}}}},
{"data":{"name":"pts"},"transform":[{"filter":{"field":"s","oneOf":["10 V, series 1","20 V, series 1","90 V, series 1"]}}],"mark":{"type":"point","shape":"M-1,-1L1,1M1,-1L-1,1","filled":false,"opacity":1,"size":100,"strokeWidth":1.6},"encoding":{"color":{"field":"s","type":"nominal","legend":null,"scale":{"domain":["10 V, series 4","20 V, series 4","90 V, series 4","10 V, series 1","20 V, series 1","90 V, series 1"],"range":["#e8601c","#5535b0","#3aa0a8","#c0522a","#3b2b7e","#2e6d74"]}}}},
{"data":{"name":"d65"},"mark":{"type":"point","shape":"circle","filled":false,"color":"#000000","opacity":1,"size":160,"strokeWidth":2},"encoding":{}},
{"data":{"name":"d65"},"mark":{"type":"point","shape":"circle","filled":true,"color":"#000000","opacity":1,"size":16},"encoding":{}},
{"data":{"name":"d65"},"mark":{"type":"text","font":"Open Sans","fontSize":15,"fill":"#111111","dx":-14,"dy":-18},"encoding":{"text":{"field":"name","type":"nominal"}}},
{"data":{"name":"pts"},"transform":[{"filter":"datum.t < 0"}],"mark":{"type":"point","filled":true,"opacity":1},
"encoding":{"color":{"field":"s","type":"nominal","scale":{"domain":["10 V, series 4","20 V, series 4","90 V, series 4"],"range":["#e8601c","#5535b0","#3aa0a8"]},
"legend":{"title":null,"orient":"none","legendX":275,"legendY":17,"padding":0,"labelFont":"Open Sans","labelFontSize":16.5,"labelColor":"#222222","labelOffset":1,"symbolSize":200,"symbolStrokeWidth":0,"symbolOpacity":1,"rowPadding":11.5,"symbolType":"M-1,-0.12L1,-0.12L1,0.12L-1,0.12Z M0.55,0A0.55,0.55 0 1,1 -0.55,0A0.55,0.55 0 1,1 0.55,0Z"}}}},
{"data":{"name":"pts"},"transform":[{"filter":"datum.t < 0"}],"mark":{"type":"point","filled":true,"opacity":1},
"encoding":{"color":{"field":"s","type":"nominal","scale":{"domain":["10 V, series 1","20 V, series 1","90 V, series 1"],"range":["#c0522a","#3b2b7e","#2e6d74"]},
"legend":{"title":null,"orient":"none","legendX":275,"legendY":101.6,"padding":0,"labelFont":"Open Sans","labelFontSize":16.5,"labelColor":"#222222","labelOffset":1,"symbolSize":200,"symbolStrokeWidth":0,"symbolOpacity":1,"rowPadding":11.5,"symbolType":"M-1,-0.12L1,-0.12L1,0.12L-1,0.12Z M-0.6,-0.45L-0.45,-0.6L0,-0.15L0.45,-0.6L0.6,-0.45L0.15,0L0.6,0.45L0.45,0.6L0,0.15L-0.45,0.6L-0.6,0.45L-0.15,0Z"}}}}
]
},
{
"width": 376, "height": 488,
"title": {"text":"(b)","orient":"bottom","anchor":"middle","font":"Open Sans","fontSize":25,"fontWeight":"normal","color":"#1a1a1a","offset":61,"dx":-31},
"encoding": {
"x": {"field":"x","type":"quantitative","scale":{"domain":[0.2,0.413],"nice":false,"zero":false},
"axis":{"values":[0.2,0.25,0.3,0.35,0.4],"labelExpr":"replace(toString(datum.value), '.', ',')","offset":-61.3,"grid":false,"domainColor":"#7f9a98","domainWidth":2,"tickColor":"#7f9a98","tickWidth":2,"tickSize":5,"labelFont":"Open Sans","labelFontSize":15,"labelColor":"#333333","labelPadding":6,"labelFlush":false,"labelOverlap":false,"title":"x","titleFont":"Open Sans","titleFontSize":15,"titleFontWeight":"bold","titleColor":"#222222","titleX":195,"titleY":37,"titleBaseline":"middle","titleAlign":"center"}},
"y": {"field":"y","type":"quantitative","scale":{"domain":[0.1582,0.4909],"nice":false,"zero":false},
"axis":{"values":[0.2,0.25,0.3,0.35,0.4,0.45],"labelExpr":"replace(toString(datum.value), '.', ',')","domain":false,"grid":false,"tickColor":"#7f9a98","tickWidth":2,"tickSize":5,"labelFont":"Open Sans","labelFontSize":15,"labelColor":"#333333","labelPadding":8,"labelOverlap":false,"title":"y","titleFont":"Open Sans","titleFontSize":15,"titleFontWeight":"bold","titleColor":"#222222","titleAngle":0,"titleX":-63,"titleY":240,"titleBaseline":"middle","titleAlign":"center"}}
},
"layer": [
{"data":{"name":"baxis"},"mark":{"type":"rule","color":"#7f9a98","strokeWidth":2},"encoding":{"y2":{"field":"y2"}}},
{"data":{"name":"pts"},"mark":{"type":"line","strokeWidth":1.6},"encoding":{"order":{"field":"t","type":"quantitative"},"color":{"field":"s","type":"nominal","legend":null,"scale":{"domain":["10 V, series 4","20 V, series 4","90 V, series 4","10 V, series 1","20 V, series 1","90 V, series 1"],"range":["#e5631b","#4a2f9c","#3fa3a8","#7b3a1c","#2e2462","#2e6e72"]}}}},
{"data":{"name":"pts"},"transform":[{"filter":{"field":"s","oneOf":["10 V, series 4","20 V, series 4","90 V, series 4"]}}],"mark":{"type":"point","shape":"circle","filled":true,"opacity":1,"size":85},"encoding":{"color":{"field":"s","type":"nominal","legend":null,"scale":{"domain":["10 V, series 4","20 V, series 4","90 V, series 4","10 V, series 1","20 V, series 1","90 V, series 1"],"range":["#e5631b","#4a2f9c","#3fa3a8","#7b3a1c","#2e2462","#2e6e72"]}}}},
{"data":{"name":"pts"},"transform":[{"filter":{"field":"s","oneOf":["10 V, series 1","20 V, series 1","90 V, series 1"]}}],"mark":{"type":"point","shape":"M-1,-1L1,1M1,-1L-1,1","filled":false,"opacity":1,"size":121,"strokeWidth":1.7},"encoding":{"color":{"field":"s","type":"nominal","legend":null,"scale":{"domain":["10 V, series 4","20 V, series 4","90 V, series 4","10 V, series 1","20 V, series 1","90 V, series 1"],"range":["#e5631b","#4a2f9c","#3fa3a8","#7b3a1c","#2e2462","#2e6e72"]}}}},
{"data":{"name":"pts"},"transform":[{"filter":"datum.s == '90 V, series 4' || (datum.s == '10 V, series 4' && datum.t == 45)"}],"mark":{"type":"text","font":"Open Sans","fontSize":15,"align":"center","baseline":"middle","dx":-1,"dy":-14},"encoding":{"text":{"field":"t","type":"nominal"},"fill":{"field":"s","type":"nominal","legend":null,"scale":{"domain":["10 V, series 4","20 V, series 4","90 V, series 4","10 V, series 1","20 V, series 1","90 V, series 1"],"range":["#e8783a","#7b3de0","#3fa3aa","#7a4424","#7b3de0","#3a7878"]}}}},
{"data":{"name":"pts"},"transform":[{"filter":"(datum.s == '20 V, series 4' && datum.t < 70) || (datum.s == '10 V, series 4' && datum.t == 60) || (datum.s == '90 V, series 1' && datum.t == 45)"}],"mark":{"type":"text","font":"Open Sans","fontSize":15,"align":"center","baseline":"middle","dx":3,"dy":14},"encoding":{"text":{"field":"t","type":"nominal"},"fill":{"field":"s","type":"nominal","legend":null,"scale":{"domain":["10 V, series 4","20 V, series 4","90 V, series 4","10 V, series 1","20 V, series 1","90 V, series 1"],"range":["#e8783a","#7b3de0","#3fa3aa","#7a4424","#7b3de0","#3a7878"]}}}},
{"data":{"name":"pts"},"transform":[{"filter":"(datum.s == '20 V, series 4' && datum.t == 70) || (datum.s == '90 V, series 1' && datum.t == 60)"}],"mark":{"type":"text","font":"Open Sans","fontSize":15,"align":"center","baseline":"middle","dx":11,"dy":13},"encoding":{"text":{"field":"t","type":"nominal"},"fill":{"field":"s","type":"nominal","legend":null,"scale":{"domain":["10 V, series 4","20 V, series 4","90 V, series 4","10 V, series 1","20 V, series 1","90 V, series 1"],"range":["#e8783a","#7b3de0","#3fa3aa","#7a4424","#7b3de0","#3a7878"]}}}},
{"data":{"name":"pts"},"transform":[{"filter":"(datum.s == '10 V, series 4' && datum.t == 70) || (datum.s == '10 V, series 1' && datum.t < 70) || (datum.s == '20 V, series 1' && datum.t == 45)"}],"mark":{"type":"text","font":"Open Sans","fontSize":15,"align":"center","baseline":"middle","dx":-11,"dy":-14},"encoding":{"text":{"field":"t","type":"nominal"},"fill":{"field":"s","type":"nominal","legend":null,"scale":{"domain":["10 V, series 4","20 V, series 4","90 V, series 4","10 V, series 1","20 V, series 1","90 V, series 1"],"range":["#e8783a","#7b3de0","#3fa3aa","#7a4424","#7b3de0","#3a7878"]}}}},
{"data":{"name":"pts"},"transform":[{"filter":"(datum.s == '10 V, series 1' && datum.t == 70) || (datum.s == '20 V, series 1' && datum.t > 45)"}],"mark":{"type":"text","font":"Open Sans","fontSize":15,"align":"center","baseline":"middle","dx":-19,"dy":-6},"encoding":{"text":{"field":"t","type":"nominal"},"fill":{"field":"s","type":"nominal","legend":null,"scale":{"domain":["10 V, series 4","20 V, series 4","90 V, series 4","10 V, series 1","20 V, series 1","90 V, series 1"],"range":["#e8783a","#7b3de0","#3fa3aa","#7a4424","#7b3de0","#3a7878"]}}}},
{"data":{"name":"pts"},"transform":[{"filter":"datum.s == '90 V, series 1' && datum.t == 70"}],"mark":{"type":"text","font":"Open Sans","fontSize":15,"align":"center","baseline":"middle","dx":16,"dy":-2},"encoding":{"text":{"field":"t","type":"nominal"},"fill":{"field":"s","type":"nominal","legend":null,"scale":{"domain":["10 V, series 4","20 V, series 4","90 V, series 4","10 V, series 1","20 V, series 1","90 V, series 1"],"range":["#e8783a","#7b3de0","#3fa3aa","#7a4424","#7b3de0","#3a7878"]}}}}
]
}
]
}
